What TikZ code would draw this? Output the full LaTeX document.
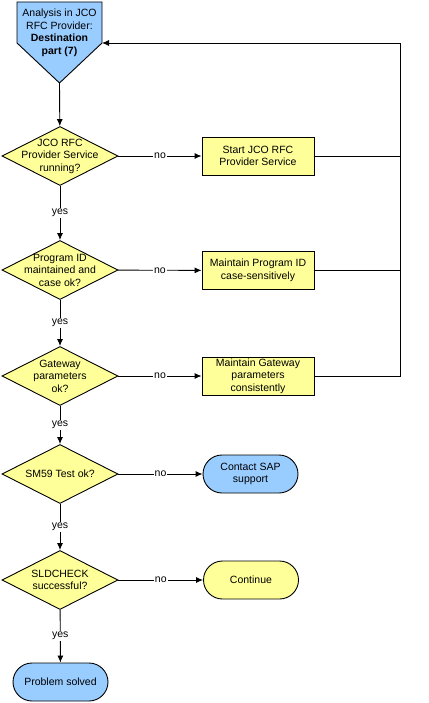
\documentclass[tikz,border=0pt]{standalone}
\usepackage{fontspec}
\setmainfont{Liberation Sans}
\usetikzlibrary{arrows.meta, positioning, shapes.geometric, shapes.misc}
\usepackage{xcolor}
\definecolor{paleyellow}{RGB}{255,255,153}
\definecolor{paleblue}{RGB}{153,204,255}

\begin{document}
\begin{tikzpicture}[x=1pt, y=-1pt, >={Latex[length=7pt,width=6pt]}, line width=0.9pt, font=\fontsize{10.5}{12.5}\selectfont]
				\tikzstyle{decision} = [draw=black, fill=paleyellow, diamond, minimum width=116pt, minimum height=59pt, inner xsep=-25pt, inner ysep=-12pt, align=center]
				\tikzstyle{action} = [draw=black, fill=paleyellow, rectangle, minimum width=112pt, minimum height=38pt, inner sep=0pt, align=center]
				\tikzstyle{term} = [draw=black, rounded rectangle, minimum width=95pt, minimum height=38pt, inner sep=0pt, align=center]
				\tikzstyle{invis} = [draw=none, align=center]
				\tikzstyle{lbl} = [fill=white, inner sep=1pt]
				
				\useasboundingbox (0,0) rectangle (428,703);
				\filldraw[fill=paleblue] (17,2) -- (102,2) -- (102,43) -- (59.5,83) -- (17,43) -- cycle;
				
				\node[invis]			at (59.5,33)	(q0)	{Analysis in JCO\\RFC Provider:\\\textbf{Destination}\\\textbf{part (7)}};
				\coordinate (q0tip)		at (59.5,83);
				\coordinate (q0side)	at (102,43);
				\coordinate (back)		at (400,43);
				\node[decision]			at (60,156)		(d1)	{JCO RFC\\Provider Service\\running?};
				\node[action]			at (258,156)	(a1)	{Start JCO RFC\\Provider Service};
				\node[decision]			at (60,270)		(d2)	{Program ID\\maintained and\\case ok?};
				\node[action]			at (258,270.5)	(a2)	{Maintain Program ID\\case-sensitively};
				\node[decision]			at (60,376)		(d3)	{Gateway\\parameters\\ok?};
				\node[action]			at (258,376)	(a3)	{Maintain Gateway\\parameters\\consistently};
				\node[decision]			at (60,474)		(d4)	{SM59 Test ok?};
				\node[term, fill=paleblue]		at (250.5,474)	(t1)	{Contact SAP\\support};
				\node[decision]			at (60,580)		(d5)	{SLDCHECK\\successful?};
				\node[term, fill=paleyellow]	at (251,580)	(t2)	{Continue};
				\node[term, fill=paleblue]		at (60.5,682)	(t3)	{Problem solved};
				
				\path[->]
				(q0tip)	edge						(d1)
				(d1)	edge	node[lbl] {no}		(a1)
				(d1)	edge	node[lbl] {yes}		(d2)
				(d2)	edge	node[lbl] {no}		(a2)
				(d2)	edge	node[lbl] {yes}		(d3)
				(d3)	edge	node[lbl] {no}		(a3)
				(d3)	edge	node[lbl] {yes}		(d4)
				(d4)	edge	node[lbl] {no}		(t1)
				(d4)	edge	node[lbl] {yes}		(d5)
				(d5)	edge	node[lbl] {no}		(t2)
				(d5)	edge	node[lbl] {yes}		(t3);
				
				\draw (a1.east) -- (a1.east -| back);
				\draw (a2.east) -- (a2.east -| back);
				\draw[->] (a3.east) -| (back) -- (q0side);
			\end{tikzpicture}
\end{document}
